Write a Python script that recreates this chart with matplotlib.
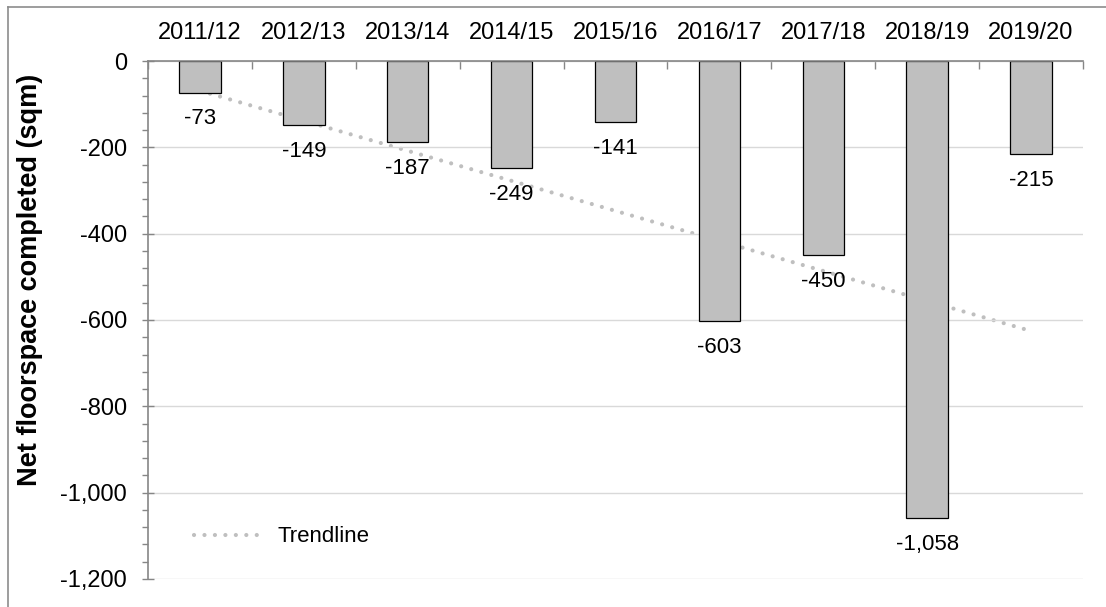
import numpy as np
import matplotlib.pyplot as plt
from matplotlib.lines import Line2D
from matplotlib.ticker import FuncFormatter, MultipleLocator

plt.rcParams['font.family'] = ['Liberation Sans', 'DejaVu Sans']

years = ['2011/12', '2012/13', '2013/14', '2014/15', '2015/16',
         '2016/17', '2017/18', '2018/19', '2019/20']
net_floorspace = [-73, -149, -187, -249, -141, -603, -450, -1058, -215]

x = np.arange(1, len(years) + 1)
y = np.array(net_floorspace)

# linear trend through the yearly totals
slope, intercept = np.polyfit(x, y, 1)
trend = slope * x + intercept

fig = plt.figure(figsize=(11.06, 6.07), dpi=100)
ax = fig.add_axes([148 / 1106, 1 - 579 / 607, (1083 - 148) / 1106, (579 - 61) / 607])

grey_axis = '#868686'
ax.set_xlim(0.5, len(years) + 0.5)
ax.set_ylim(-1200, 0)

ax.yaxis.set_major_locator(MultipleLocator(200))
ax.yaxis.set_minor_locator(MultipleLocator(40))
ax.yaxis.set_major_formatter(FuncFormatter(lambda v, p: f'{int(v):,}'))
ax.grid(axis='y', which='major', color='#d9d9d9', linewidth=1.0, zorder=0)

ax.plot(x, trend, color='#bfbfbf', linewidth=3.0, linestyle=(0, (0.01, 2.5)),
        dash_capstyle='round', zorder=1, label='Trendline')

ax.bar(x, y, width=0.4, color='#bfbfbf', edgecolor='black', linewidth=0.9, zorder=2)

for xi, v in zip(x, net_floorspace):
    ax.annotate(f'{v:,}', (xi, v), xytext=(0, -19), textcoords='offset points',
                ha='center', va='center', fontsize=16, zorder=3)

# categories sit on the top axis, tick marks between them
ax.xaxis.tick_top()
ax.set_xticks(np.arange(0.5, len(years) + 1, 1))
ax.set_xticklabels([])
ax.set_xticks(x, minor=True)
ax.set_xticklabels(years, minor=True, fontsize=17)
ax.tick_params(axis='x', which='major', direction='in', length=6, width=1, color=grey_axis)
ax.tick_params(axis='x', which='minor', length=0, pad=12)
ax.tick_params(axis='y', which='major', direction='inout', length=8, width=1,
               color=grey_axis, labelsize=17, pad=11)
ax.tick_params(axis='y', which='minor', direction='out', length=4, width=1, color=grey_axis)

ax.spines['right'].set_visible(False)
ax.spines['bottom'].set_visible(False)
for s in ['top', 'left']:
    ax.spines[s].set_color(grey_axis)
    ax.spines[s].set_linewidth(1.2)

fig.text(30 / 1106, 1 - 280 / 607, 'Net floorspace completed (sqm)', rotation=90,
         ha='center', va='center', fontsize=19.5, fontweight='bold')

ax.legend(loc='center left', bbox_to_anchor=(194 / 1106, 1 - 537 / 607),
          bbox_transform=fig.transFigure, frameon=False, fontsize=16,
          handlelength=3.2, handletextpad=0.55, borderpad=0, borderaxespad=0)

# chart border
fig.add_artist(Line2D([8 / 1106, 8 / 1106], [0, 1 - 7 / 607], transform=fig.transFigure,
                      color='#8c8c8c', linewidth=1.2))
fig.add_artist(Line2D([8 / 1106, 1], [1 - 7 / 607, 1 - 7 / 607], transform=fig.transFigure,
                      color='#8c8c8c', linewidth=1.2))

fig.savefig('out.png', dpi=100)
